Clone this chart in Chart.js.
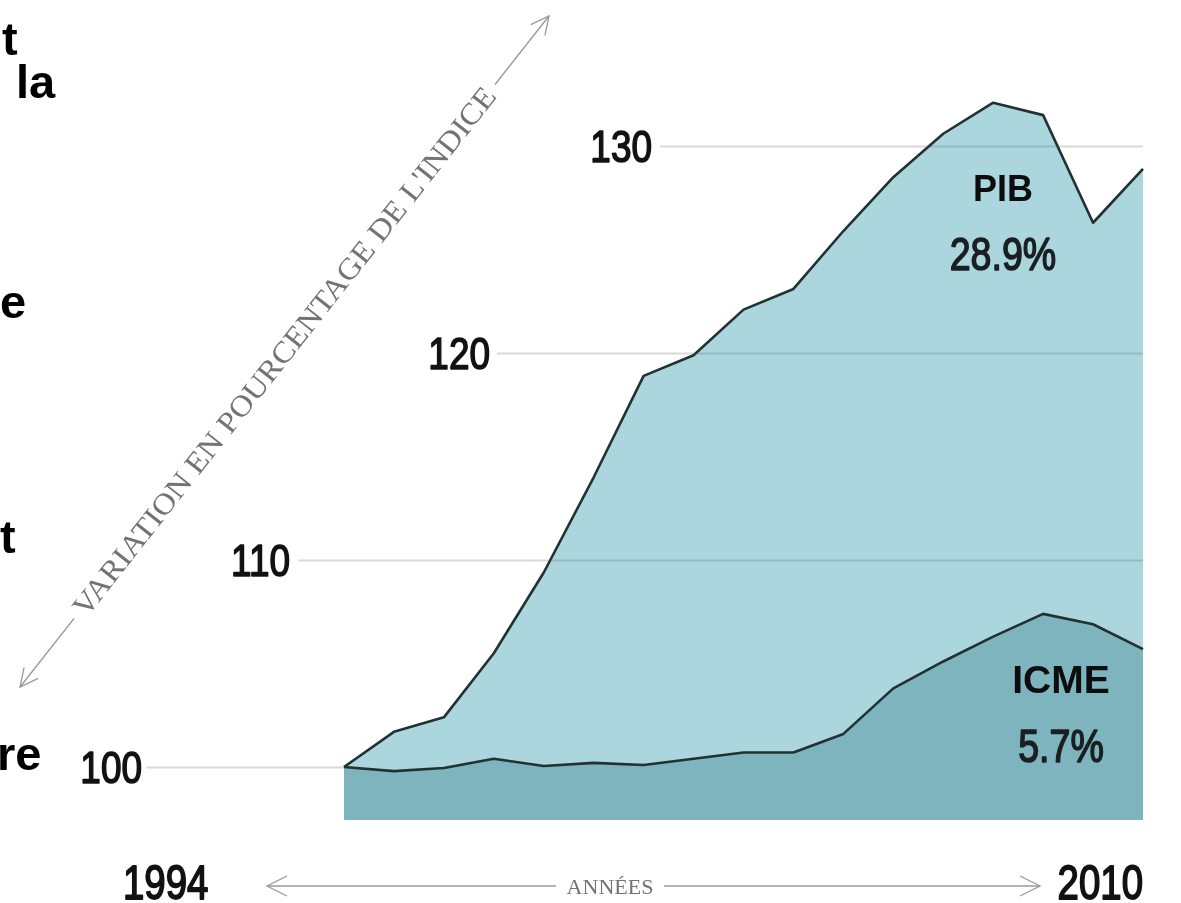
<!DOCTYPE html>
<html>
<head>
<meta charset="utf-8">
<script src="https://cdn.jsdelivr.net/npm/chart.js@4.4.1/dist/chart.umd.min.js"></script>
<style>
  html, body { margin: 0; padding: 0; background: #fff; overflow: hidden; }
  #wrap { position: relative; width: 1181px; height: 903px; }
  #c { position: absolute; left: 0; top: 0; }
  .frag { position: absolute; font: bold 47px "Liberation Sans", Arial, sans-serif; line-height: 47px; color: #000; white-space: nowrap; }
</style>
</head>
<body>
<div id="wrap">
  <canvas id="c" width="1181" height="903"></canvas>
  <div class="frag" style="left:2px;top:15px">t</div>
  <div class="frag" style="left:16px;top:58px">la</div>
  <div class="frag" style="left:0px;top:278px">e</div>
  <div class="frag" style="left:0px;top:513px">t</div>
  <div class="frag" style="left:-3px;top:730px">re</div>
</div>
<script>
// Indices annuels, base 100 en 1994
const years = ['1994','1995','1996','1997','1998','1999','2000','2001','2002',
               '2003','2004','2005','2006','2007','2008','2009','2010'];
const pib  = [100, 101.7, 102.4, 105.5, 109.4, 114.0, 118.9, 119.9, 122.1,
              123.1, 125.9, 128.5, 130.6, 132.1, 131.5, 126.3, 128.9];
const icme = [100, 99.8, 99.95, 100.4, 100.05, 100.2, 100.1, 100.4, 100.7,
              100.7, 101.6, 103.8, 105.1, 106.3, 107.4, 106.9, 105.7];
const yTicks = [100, 110, 120, 130];
const seriesNames = ['PIB', 'ICME'];
const axisTitle = "VARIATION EN POURCENTAGE DE L'INDICE";
const xTitle = 'ANNÉES';

// growth over the period, as printed next to each area
const growth = s => ((s[s.length - 1] / s[0] - 1) * 100).toFixed(1) + '%';

const SANS = '"Liberation Sans", Arial, sans-serif';
const SERIF = '"Liberation Serif", "DejaVu Serif", serif';

// condensed text helper
function condText(ctx, txt, x, y, size, sx, align, weight, color, stroke) {
  ctx.save();
  ctx.font = (weight || 'normal') + ' ' + size + 'px ' + SANS;
  ctx.fillStyle = color || '#111';
  ctx.textBaseline = 'alphabetic';
  ctx.translate(x, y);
  ctx.scale(sx, 1);
  ctx.textAlign = align || 'left';
  ctx.fillText(txt, 0, 0);
  if (stroke) {
    ctx.strokeStyle = color || '#111';
    ctx.lineWidth = stroke;
    ctx.lineJoin = 'round';
    ctx.strokeText(txt, 0, 0);
  }
  ctx.restore();
}

function chevron(ctx, x, y, dir, len, half) {
  ctx.beginPath();
  ctx.moveTo(x - dir * len, y - half);
  ctx.lineTo(x, y);
  ctx.lineTo(x - dir * len, y + half);
  ctx.stroke();
}

const decor = {
  id: 'decor',
  afterDatasetsDraw(chart, args, opts) {
    const { ctx, chartArea, scales: { y } } = chart;
    ctx.save();
    // staggered horizontal guides with their values
    yTicks.forEach((v, i) => {
      const py = Math.round(y.getPixelForValue(v)) + 0.5;
      const end = v <= y.min + (y.max - y.min) * 0.1 ? chartArea.left : chartArea.right;
      ctx.strokeStyle = 'rgba(80,80,80,0.22)';
      ctx.lineWidth = 2;
      ctx.beginPath();
      ctx.moveTo(opts.gridStart[i], py);
      ctx.lineTo(end, py);
      ctx.stroke();
      condText(ctx, String(v), opts.labelRight[i], py + 15, 44, 0.84, 'right', 'normal', '#121212', 1.6);
    });

    // series labels with growth
    const sets = [pib, icme];
    opts.notes.forEach((n, i) => {
      ctx.save();
      ctx.font = 'bold ' + n.nameSize + 'px ' + SANS;
      ctx.fillStyle = '#0d0d0d';
      ctx.textAlign = 'center';
      ctx.fillText(seriesNames[i], n.x, n.nameY);
      ctx.restore();
      condText(ctx, growth(sets[i]), n.x, n.pctY, 47, 0.8, 'center', 'normal', '#1a1f22', 1.6);
    });
    ctx.restore();
  },
  afterDraw(chart, args, opts) {
    const ctx = chart.ctx;
    ctx.save();
    ctx.strokeStyle = '#9a9a9a';
    ctx.fillStyle = '#737373';
    ctx.lineWidth = 1.3;

    // diagonal value-axis arrow with its title
    const a = opts.diag;
    const len = Math.hypot(a.x1 - a.x0, a.y1 - a.y0);
    const ang = Math.atan2(a.y1 - a.y0, a.x1 - a.x0);
    ctx.save();
    ctx.translate(a.x0, a.y0);
    ctx.rotate(ang);
    ctx.font = a.size + 'px ' + SERIF;
    const w = ctx.measureText(axisTitle).width;
    const tw = a.textLen;
    const t0 = (len - tw) / 2;
    ctx.beginPath();
    ctx.moveTo(0, 0); ctx.lineTo(t0 - 8, 0);
    ctx.moveTo(t0 + tw + 8, 0); ctx.lineTo(len, 0);
    ctx.stroke();
    chevron(ctx, 0, 0, -1, 18, 9);
    chevron(ctx, len, 0, 1, 18, 9);
    ctx.translate(t0, a.size * 0.32);
    ctx.scale(tw / w, 1);
    ctx.fillText(axisTitle, 0, 0);
    ctx.restore();

    // horizontal time arrow
    const b = opts.time;
    ctx.beginPath();
    ctx.moveTo(b.x0, b.y); ctx.lineTo(b.gap0, b.y);
    ctx.moveTo(b.gap1, b.y); ctx.lineTo(b.x1, b.y);
    ctx.stroke();
    chevron(ctx, b.x0, b.y, -1, 20, 10);
    chevron(ctx, b.x1, b.y, 1, 20, 10);
    ctx.font = '22px ' + SERIF;
    ctx.textAlign = 'center';
    ctx.fillText(xTitle, (b.gap0 + b.gap1) / 2, b.y + 8);
    ctx.restore();

    // period bounds
    condText(ctx, years[0], 123, 899, 48, 0.8, 'left', 'normal', '#121212', 1.8);
    condText(ctx, years[years.length - 1], 1143, 899, 48, 0.8, 'right', 'normal', '#121212', 1.8);
  }
};

new Chart(document.getElementById('c'), {
  type: 'line',
  data: {
    labels: years,
    datasets: [
      {
        label: seriesNames[1],
        data: icme,
        fill: 'start',
        backgroundColor: '#7db4bd',
        borderColor: '#223232',
        borderWidth: 2.6,
        pointRadius: 0,
        tension: 0,
        borderJoinStyle: 'round'
      },
      {
        label: seriesNames[0],
        data: pib,
        fill: 'start',
        backgroundColor: '#acd6de',
        borderColor: '#223232',
        borderWidth: 2.6,
        pointRadius: 0,
        tension: 0,
        borderJoinStyle: 'round'
      }
    ]
  },
  options: {
    responsive: false,
    animation: false,
    layout: { padding: { left: 344, right: 38, top: 22, bottom: 83 } },
    scales: {
      x: { display: false, offset: false },
      y: { display: false, min: 97.44, max: 136 }
    },
    plugins: {
      legend: { display: false },
      tooltip: { enabled: false },
      decor: {
        gridStart: [146, 298, 497, 660],
        labelRight: [142, 290, 490, 652],
        notes: [
          { x: 1003, nameY: 201, nameSize: 36, pctY: 270 },
          { x: 1061, nameY: 693, nameSize: 39, pctY: 762 }
        ],
        diag: { x0: 20, y0: 687, x1: 549, y1: 16, size: 30, textLen: 664 },
        time: { x0: 267, x1: 1040, y: 886, gap0: 556, gap1: 664 }
      }
    }
  },
  plugins: [decor]
});
</script>
</body>
</html>
